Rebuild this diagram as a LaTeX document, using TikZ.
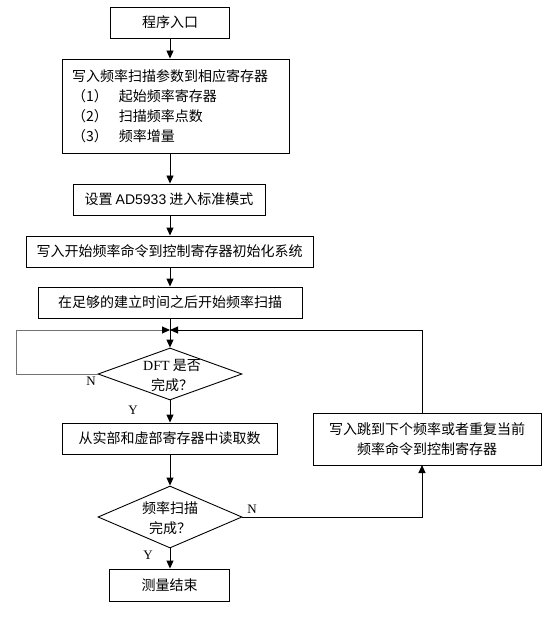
\documentclass[tikz,border=0pt]{standalone}
\usepackage{fontspec}
\setmainfont{Liberation Serif}
\newfontfamily\cjk{Noto Sans CJK SC}
\usetikzlibrary{shapes.geometric,arrows.meta}
\begin{document}
\begin{tikzpicture}[x=1pt,y=-1pt,
  every node/.style={font=\cjk\fontsize{14}{20}\selectfont},
  box/.style={draw,line width=0.9pt,inner sep=0pt,align=center},
  dia/.style={draw,diamond,line width=0.9pt,inner sep=0pt},
  lbl/.style={font=\fontsize{13}{14}\selectfont,inner sep=0pt},
  arr/.style={line width=0.9pt,-{Triangle[length=8pt,width=7pt,color=black]}},
  ln/.style={line width=0.9pt}]
\useasboundingbox (0,0) rectangle (544,631);
\fill[white] (0,0) rectangle (544,631);
\node[box,minimum width=119pt,minimum height=31pt] (b1) at (170,22.5) {程序入口};
\node[box,minimum height=94pt,align=left,inner xsep=10pt,text width=207pt] (b2) at (175.5,106)
  {写入频率扫描参数到相应寄存器\\
   \makebox[47pt][l]{（1）}起始频率寄存器\\
   \makebox[47pt][l]{（2）}扫描频率点数\\
   \makebox[47pt][l]{（3）}频率增量};
\node[box,minimum width=192pt,minimum height=31pt] (b3) at (169,199.5) {设置 {\fontspec{Liberation Sans}AD5933} 进入标准模式};
\node[box,minimum width=287pt,minimum height=31pt] (b4) at (169.5,251.5) {写入开始频率命令到控制寄存器初始化系统};
\node[box,minimum width=264pt,minimum height=31pt] (b5) at (170,302.5) {在足够的建立时间之后开始频率扫描};
\coordinate (J) at (170,330);
\node[dia,minimum width=144pt,minimum height=52pt] (d1) at (170,374) {};
\node[align=center,inner sep=0pt] (d1t) at (172,376) {{\rmfamily DFT} 是否\\完成？};
\node[box,minimum width=215pt,minimum height=31pt] (b6) at (169.5,438.5) {从实部和虚部寄存器中读取数};
\node[dia,minimum width=144pt,minimum height=62pt] (d2) at (170,517) {};
\node[align=center,inner sep=0pt] (d2t) at (170,518) {频率扫描\\完成？};
\node[box,minimum width=120pt,minimum height=32pt] (b7) at (169.5,585) {测量结束};
\node[box,minimum width=228pt,minimum height=52pt] (b8) at (427,439) {写入跳到下个频率或者重复当前\\频率命令到控制寄存器};
\coordinate (L) at (16,330);
\coordinate (Ld) at (16,374);
\coordinate (R) at (422,330);
\coordinate (Rd) at (422,517);
\coordinate (Rb) at (422,465);
\coordinate (Rt) at (422,413);
\node[lbl] (n1) at (91,381) {N};
\node[lbl] (y1) at (133,410) {Y};
\node[lbl] (n2) at (252,509) {N};
\node[lbl] (y2) at (148,555) {Y};
\draw[arr] (b1.south) -- (b1.south |- b2.north);
\draw[arr] (b1.south |- b2.south) -- (b1.south |- b3.north);
\draw[arr] (b1.south |- b3.south) -- (b1.south |- b4.north);
\draw[arr] (b1.south |- b4.south) -- (b1.south |- b5.north);
\draw[ln] (b5.south) -- (J);
\draw[arr] (J) -- (d1.north);
\draw[arr,black!55] (d1.west) -- (Ld) -- (L) -- (J);
\draw[arr] (Rt) -- (R) -- (J);
\draw[arr] (d1.south) -- (d1.south |- b6.north);
\draw[arr] (d1.south |- b6.south) -- (d2.north);
\draw[arr] (d2.south) -- (d2.south |- b7.north);
\draw[arr] (d2.east) -- (Rd) -- (Rb);
\end{tikzpicture}
\end{document}
